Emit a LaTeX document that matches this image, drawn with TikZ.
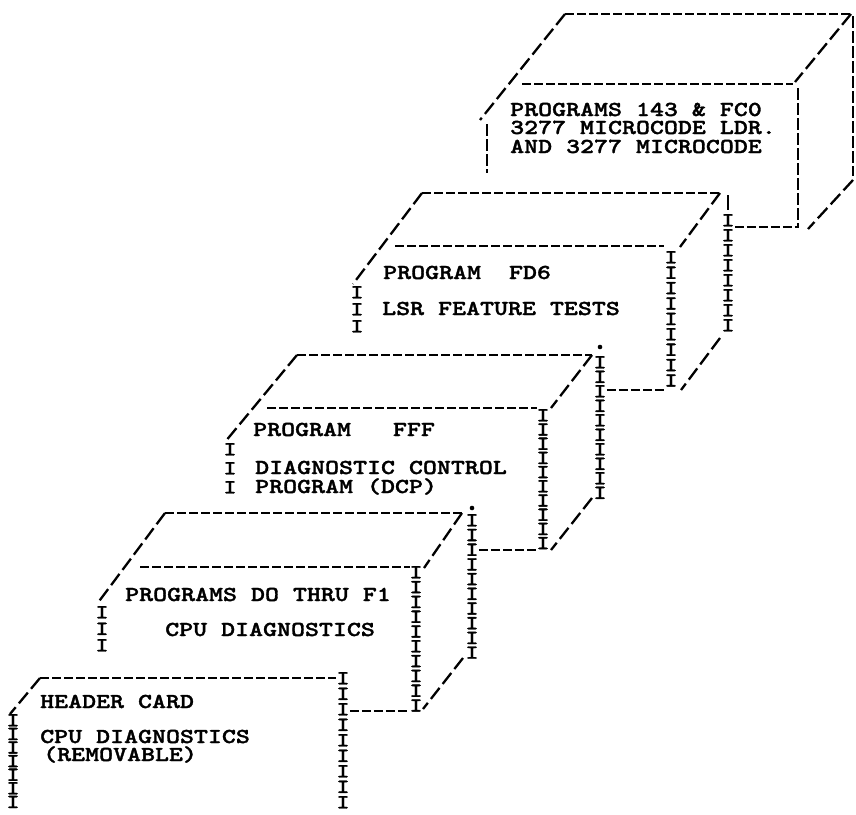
\documentclass[tikz,border=0pt]{standalone}
\usepackage{fontspec}
\newfontfamily\typer{lmmonolt10-bold.otf}[FakeStretch=1.25,FakeBold=1.5]
\usetikzlibrary{positioning}

\begin{document}
\begin{tikzpicture}[x=1pt, y=-1pt,
dashline/.style={line width=2.3pt, dash pattern=on 9pt off 3pt},
slash/.style={line width=2.3pt, dash pattern=on 14pt off 5pt},
bar/.style={line width=2.3pt, dash pattern=on 12pt off 3pt},
cardtext/.style={font={\fontsize{21.3}{21.3}\typer}, anchor=base west, inner sep=0pt},
icol/.style={font={\fontsize{20}{#1}\typer}, align=center, anchor=north, inner sep=0pt}
]
\useasboundingbox (0,0) rectangle (856,814);

% box 1
\draw[dashline] (565,14) -- (851,14);
\draw[slash] (851,14) -- (795,82);
\draw[dashline] (522,84) -- (793,84);
\draw[slash] (565,14) -- (480,120);
\draw[bar] (487,124) -- (487,173);
\draw[bar] (853,16) -- (853,176);
\draw[bar] (798,88) -- (798,228);
\draw[slash] (853,180) -- (808,229);
\node[cardtext] (fc0a) at (510,116) {PROGRAMS 143 \& FC0};
\node[cardtext] (fc0b) at (510,134) {3277 MICROCODE LDR.};
\node[cardtext] (fc0c) at (510,153) {AND 3277 MICROCODE};

% box 2
\draw[dashline] (422,193) -- (720,193);
\draw[slash] (720,193) -- (680,247);
\draw[dashline] (395,246) -- (664,246);
\draw[slash] (422,193) -- (353,284);
\draw[slash] (720,338) -- (681,390);
\node[icol=17] (fd6l) at (357,286) {I\\I\\I};
\node[icol=15.4] (colC) at (671,251) {I\\I\\I\\I\\I\\I\\I\\I\\I};
\draw[line width=2.3pt] (728,195) -- (728,210);
\node[icol=15] (colB) at (728,214) {I\\I\\I\\I\\I\\I\\I\\I};
\coordinate (b1low) at (798,227);
\draw[dashline] (b1low -| colB.east) -- (b1low);
\node[cardtext] (fd6a) at (383,279) {PROGRAM\ \ FD6};
\node[cardtext] (fd6b) at (382,315) {LSR FEATURE TESTS};

% box 3
\draw[dashline] (297,355) -- (592,355);
\draw[slash] (592,355) -- (551,408);
\draw[dashline] (267,408) -- (537,408);
\draw[slash] (297,355) -- (225,442);
\draw[slash] (592,498) -- (551,550);
\node[icol=19] (fffl) at (230,443) {I\\I\\I};
\node[icol=14.2] (colE) at (543,409) {I\\I\\I\\I\\I\\I\\I\\I\\I\\I};
\fill (600,347) circle (2.3pt);
\node[icol=14.5] (colD) at (600,356) {I\\I\\I\\I\\I\\I\\I\\I\\I\\I};
\coordinate (b2low) at (0,390);
\draw[dashline] (b2low -| colD.east) -- (b2low -| colC.west);
\node[cardtext] (fffa) at (253,436) {PROGRAM\ \ \ FFF};
\node[cardtext] (fffb) at (255,474) {DIAGNOSTIC CONTROL};
\node[cardtext] (fffc) at (255,493) {PROGRAM (DCP)};

% box 4
\draw[dashline] (165,513) -- (462,513);
\draw[slash] (462,513) -- (424,568);
\draw[dashline] (140,567) -- (410,567);
\draw[slash] (165,513) -- (97,604);
\draw[slash] (463,658) -- (423,709);
\node[icol=16.5] (d0l) at (102,606) {I\\I\\I};
\node[icol=14.8] (colG) at (416,566) {I\\I\\I\\I\\I\\I\\I\\I\\I\\I};
\fill (472,508) circle (2.3pt);
\node[icol=14.7] (colF) at (472,514) {I\\I\\I\\I\\I\\I\\I\\I\\I\\I};
\coordinate (b3low) at (0,550);
\draw[dashline] (b3low -| colF.east) -- (b3low -| colE.west);
\node[cardtext] (d0a) at (125,601) {PROGRAMS DO THRU F1};
\node[cardtext] (d0b) at (165,636) {CPU DIAGNOSTICS};

% box 5
\draw[dashline] (40,678) -- (336,678);
\draw[slash] (40,678) -- (10,714);
\node[icol=13.6] (hdl) at (13,714) {I\\I\\I\\I\\I\\I\\I};
\node[icol=15.5] (colH) at (343,672) {I\\I\\I\\I\\I\\I\\I\\I\\I};
\coordinate (b4low) at (0,711);
\draw[dashline] (b4low -| colH.east) -- (b4low -| colG.west);
\node[cardtext] (hda) at (40,708) {HEADER CARD};
\node[cardtext] (hdb) at (40,743) {CPU DIAGNOSTICS};
\node[cardtext] (hdc) at (43,761) {(REMOVABLE)};
\end{tikzpicture}
\end{document}
